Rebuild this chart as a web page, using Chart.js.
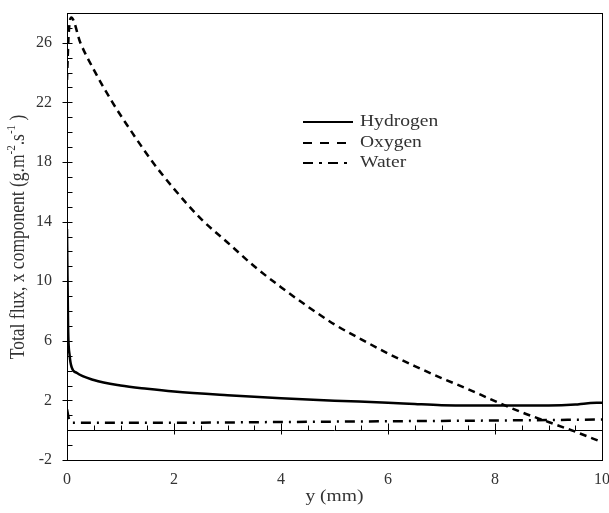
<!DOCTYPE html>
<html>
<head>
<meta charset="utf-8">
<script src="https://cdn.jsdelivr.net/npm/chart.js@4"></script>
<style>
  html, body { margin: 0; padding: 0; background: #fff; }
  #wrap { width: 609px; height: 513px; }
</style>
</head>
<body>
<div id="wrap"><canvas id="c" width="609" height="513"></canvas></div>
<script>
// ---- Data ----
const hydrogenX = [0, 0.02, 0.05, 0.09, 0.18, 0.5, 1.0, 1.5, 2.0, 3.0, 4.0, 5.0, 6.0, 6.5, 7.0, 7.5, 8.0, 9.0, 9.5, 9.7, 10];
const hydrogenY = [13.5, 7.0, 5.0, 4.2, 3.85, 3.37, 3.0, 2.78, 2.6, 2.35, 2.14, 1.98, 1.85, 1.76, 1.68, 1.65, 1.65, 1.65, 1.72, 1.8, 1.85];

const oxygenX = [0, 0.03, 0.08, 0.25, 0.5, 0.85, 1.25, 1.6, 2.0, 2.5, 3.0, 3.5, 4.0, 4.5, 5.0, 5.5, 6.0, 6.5, 7.0, 7.5, 8.0, 8.5, 9.0, 9.5, 10];
const oxygenY = [23.5, 26.5, 27.7, 26.0, 24.2, 22.0, 19.8, 18.0, 16.2, 14.2, 12.6, 11.0, 9.6, 8.3, 7.1, 6.1, 5.15, 4.3, 3.5, 2.75, 1.95, 1.2, 0.55, -0.1, -0.8];

const waterX = [0, 0.05, 0.1, 2, 4, 6, 8, 10];
const waterY = [1.4, 0.6, 0.5, 0.5, 0.55, 0.6, 0.65, 0.72];

const seriesNames = ["Hydrogen", "Oxygen", "Water"];
const xTickValues = [0, 2, 4, 6, 8, 10];
const yTickValues = [-2, 2, 6, 10, 14, 18, 22, 26];
const xTitle = "y (mm)";

const FONT = '"Liberation Serif", "Times New Roman", serif';
const TXT = '#333';
const STRETCH = 1.15;

function pts(xs, ys) { return xs.map((x, i) => ({ x: x, y: ys[i] })); }

const dashStyles = [[], [7, 5], [10, 6, 2, 6]];

const framePlugin = {
  id: 'frame',
  afterDatasetsDraw(chart) {
    const ctx = chart.ctx, a = chart.chartArea;
    const xs = chart.scales.x, ys = chart.scales.y;
    ctx.save();
    ctx.strokeStyle = '#000';
    ctx.lineWidth = 1;
    ctx.setLineDash([]);
    // frame
    ctx.strokeRect(Math.round(a.left) + 0.5, Math.round(a.top) + 0.5, Math.round(a.right - a.left), Math.round(a.bottom - a.top));
    // y-axis ticks
    const L = Math.round(a.left) + 0.5;
    for (let v = ys.min; v <= ys.max; v += 1) {
      const p = Math.round(ys.getPixelForValue(v)) + 0.5;
      const major = yTickValues.includes(v);
      ctx.beginPath();
      ctx.moveTo(major ? L - 5 : L, p);
      ctx.lineTo(L + 5, p);
      ctx.stroke();
    }
    // zero line with x ticks
    const z = Math.round(ys.getPixelForValue(0)) + 0.5;
    ctx.beginPath();
    ctx.moveTo(a.left, z); ctx.lineTo(a.right, z); ctx.stroke();
    for (let v = 0; v <= 10.001; v += 0.5) {
      const p = Math.round(xs.getPixelForValue(v)) + 0.5;
      const major = xTickValues.includes(Math.round(v * 10) / 10);
      ctx.beginPath();
      ctx.moveTo(p, z - (major ? 7 : 5));
      ctx.lineTo(p, z + (major ? 4 : 0));
      ctx.stroke();
    }
    // Legend
    const lx0 = 303, lx1 = 353, tx = 360;
    const ly = [122, 143, 163];
    const legDash = [[], [9, 8], [10, 6, 3, 6]];
    ctx.textBaseline = 'middle';
    for (let i = 0; i < 3; i++) {
      ctx.beginPath();
      ctx.lineWidth = 2;
      ctx.setLineDash(legDash[i]);
      ctx.moveTo(lx0, ly[i]); ctx.lineTo(lx1, ly[i]);
      ctx.stroke();
      ctx.setLineDash([]);
      ctx.save();
      ctx.translate(tx, ly[i]);
      ctx.scale(STRETCH, 1);
      ctx.font = '17px ' + FONT;
      ctx.textAlign = 'left';
      ctx.fillStyle = TXT;
      ctx.fillText(seriesNames[i], 0, 0);
      ctx.restore();
    }
    // x title
    ctx.save();
    ctx.translate((a.left + a.right) / 2, 497);
    ctx.scale(STRETCH, 1);
    ctx.textAlign = 'center';
    ctx.font = '17px ' + FONT;
    ctx.fillStyle = TXT;
    ctx.fillText(xTitle, 0, 0);
    ctx.restore();
    // y title (rotated, with superscripts)
    ctx.save();
    ctx.translate(19, 237);
    ctx.rotate(-Math.PI / 2);
    ctx.scale(1, STRETCH);
    ctx.fillStyle = TXT;
    const parts = [
      ['Total flux, x component (g.m', false],
      ['-2', true],
      ['.s', false],
      ['-1', true],
      [' )', false]
    ];
    const big = '17.5px ' + FONT, small = '11px ' + FONT;
    let w = 0;
    parts.forEach(p => { ctx.font = p[1] ? small : big; w += ctx.measureText(p[0]).width; });
    let x = -w / 2;
    ctx.textAlign = 'left';
    parts.forEach(p => {
      ctx.font = p[1] ? small : big;
      ctx.fillText(p[0], x, p[1] ? -6 : 0);
      x += ctx.measureText(p[0]).width;
    });
    ctx.restore();
    ctx.restore();
  }
};

const ds = [pts(hydrogenX, hydrogenY), pts(oxygenX, oxygenY), pts(waterX, waterY)];

new Chart(document.getElementById('c'), {
  type: 'line',
  data: {
    datasets: seriesNames.map((n, i) => ({
      label: n,
      data: ds[i],
      borderColor: '#000',
      borderWidth: 2.5,
      borderDash: dashStyles[i],
      pointRadius: 0,
      fill: false,
      cubicInterpolationMode: 'monotone'
    }))
  },
  options: {
    responsive: false,
    animation: false,
    layout: { padding: { top: 13, right: 7, left: 0, bottom: 0 } },
    plugins: { legend: { display: false }, tooltip: { enabled: false } },
    scales: {
      x: {
        type: 'linear', min: 0, max: 10,
        grid: { display: false, drawTicks: false },
        border: { display: false },
        afterFit(s) { s.height = 53; s.paddingLeft = 0; s.paddingRight = 0; },
        afterBuildTicks(s) { s.ticks = xTickValues.map(v => ({ value: v })); },
        ticks: { padding: 10, color: TXT, font: { family: FONT, size: 16 }, maxRotation: 0, autoSkip: false }
      },
      y: {
        type: 'linear', min: -2, max: 28,
        grid: { display: false, drawTicks: false },
        border: { display: false },
        afterFit(s) { s.width = 67; s.paddingTop = 0; s.paddingBottom = 0; },
        afterBuildTicks(s) { s.ticks = yTickValues.map(v => ({ value: v })); },
        ticks: { padding: 15, color: TXT, font: { family: FONT, size: 16 }, autoSkip: false }
      }
    }
  },
  plugins: [framePlugin]
});
</script>
</body>
</html>
